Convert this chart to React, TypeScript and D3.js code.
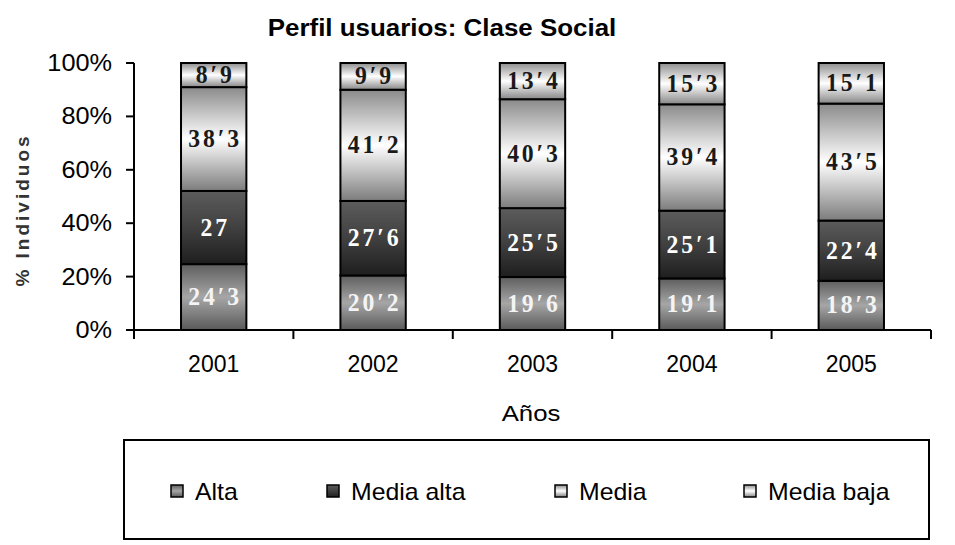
import React from "react";
import * as d3 from "d3";

const years = ["2001", "2002", "2003", "2004", "2005"];
const seriesNames = ["Alta", "Media alta", "Media", "Media baja"];
const alta = [24.3, 20.2, 19.6, 19.1, 18.3];
const mediaAlta = [27, 27.6, 25.5, 25.1, 22.4];
const media = [38.3, 41.2, 40.3, 39.4, 43.5];
const mediaBaja = [8.9, 9.9, 13.4, 15.3, 15.1];
const yTicks = [0, 0.2, 0.4, 0.6, 0.8, 1];

const seriesValues = [alta, mediaAlta, media, mediaBaja];
const gradStops: [string, string, string][] = [
  ["#5e5e5e", "#a6a6a6", "#5a5a5a"],
  ["#5c5c5c", "#404040", "#1e1e1e"],
  ["#8a8a8a", "#ffffff", "#7c7c7c"],
  ["#8e8e8e", "#ffffff", "#868686"],
];
const labelColors = ["#f4f4f4", "#ffffff", "#1a1a1a", "#1a1a1a"];

const W = 955, H = 545;
const SANS = "'Liberation Sans', Arial, sans-serif";
const SERIF = "'Liberation Serif', 'DejaVu Serif', serif";

export default function App() {
  const x = d3.scaleBand<string>().domain(years).range([134, 931]).paddingInner(0.59).paddingOuter(0.295);
  const y = d3.scaleLinear().domain([0, 1]).range([330, 63]);

  const rows = years.map((yr, i) => {
    const r: any = { year: yr };
    seriesNames.forEach((s, k) => (r[s] = seriesValues[k][i]));
    return r;
  });
  const stack = d3.stack<any>().keys(seriesNames).offset(d3.stackOffsetExpand);
  const layers = stack(rows);

  const step = x.step();
  const boundaries = d3.range(years.length + 1).map((i) => 134 + i * step);

  const fmt = (v: number) => String(v).replace(".", "′");

  return (
    <svg width={W} height={H} style={{ position: "absolute", left: 0, top: 0, background: "#fff" }}>
      <defs>
        {gradStops.map((g, k) => (
          <linearGradient key={k} id={`g${k}`} x1="0" y1="0" x2="0" y2="1">
            <stop offset="0" stopColor={g[0]} />
            <stop offset="0.5" stopColor={g[1]} />
            <stop offset="1" stopColor={g[2]} />
          </linearGradient>
        ))}
      </defs>
      <rect x={0} y={0} width={W} height={H} fill="#fff" />
      {/* title */}
      <text transform={`translate(442,36) scale(1.08,1)`} textAnchor="middle" fontFamily={SANS} fontWeight="bold" fontSize={24} fill="#000">
        Perfil usuarios: Clase Social
      </text>

      {/* bars */}
      {layers.map((layer, k) => (
        <g key={k}>
          {layer.map((d, i) => {
            const x0 = x(years[i])!;
            const bw = x.bandwidth();
            const y0 = y(d[1]);
            const y1 = y(d[0]);
            return <rect key={i} x={x0} y={y0} width={bw} height={y1 - y0} fill={`url(#g${k})`} stroke="#000" strokeWidth={2} />;
          })}
        </g>
      ))}
      {layers.map((layer, k) => (
        <g key={"l" + k}>
          {layer.map((d, i) => {
            const cx = x(years[i])! + x.bandwidth() / 2;
            const cy = (y(d[0]) + y(d[1])) / 2;
            return (
              <text key={i} transform={`translate(${cx + 1.5},${cy + 8}) scale(0.95,1)`} textAnchor="middle" fontFamily={SERIF} fontWeight="bold" fontSize={25} letterSpacing={3} fill={labelColors[k]}>
                {fmt(seriesValues[k][i])}
              </text>
            );
          })}
        </g>
      ))}

      {/* y axis */}
      <line x1={134} x2={134} y1={y(1)} y2={y(0)} stroke="#000" strokeWidth={2} />
      {yTicks.map((t) => (
        <g key={t}>
          <line x1={126} x2={134} y1={y(t)} y2={y(t)} stroke="#000" strokeWidth={2} />
          <text transform={`translate(112,${y(t) + 8}) scale(1.1,1)`} textAnchor="end" fontFamily={SANS} fontSize={23} fill="#000">
            {d3.format(".0%")(t)}
          </text>
        </g>
      ))}
      {/* x axis */}
      <line x1={134} x2={931} y1={330} y2={330} stroke="#000" strokeWidth={2} />
      {boundaries.map((b, i) => (
        <line key={i} x1={b} x2={b} y1={330} y2={339} stroke="#000" strokeWidth={2} />
      ))}
      {years.map((yr) => (
        <text key={yr} x={x(yr)! + x.bandwidth() / 2} y={372} textAnchor="middle" fontFamily={SANS} fontSize={23} fill="#000">
          {yr}
        </text>
      ))}

      {/* axis titles */}
      <text transform={`translate(531,421) scale(1.12,1)`} textAnchor="middle" fontFamily={SANS} fontSize={23} fill="#000">
        Años
      </text>
      <text transform={`translate(29,210) rotate(-90)`} textAnchor="middle" fontFamily={SANS} fontWeight="bold" fontSize={19} letterSpacing={3} fill="#333">
        % Individuos
      </text>

      {/* legend */}
      <rect x={124} y={440} width={805} height={99} fill="#fff" stroke="#000" strokeWidth={2} />
      {seriesNames.map((s, k) => {
        const lx = [171, 327, 555, 744][k];
        return (
          <g key={s}>
            <rect x={lx} y={485} width={12} height={12} fill={`url(#g${k})`} stroke="#000" strokeWidth={1.5} />
            <text transform={`translate(${lx + 24},500) scale(1.08,1)`} fontFamily={SANS} fontSize={23} fill="#000">
              {s}
            </text>
          </g>
        );
      })}
    </svg>
  );
}
